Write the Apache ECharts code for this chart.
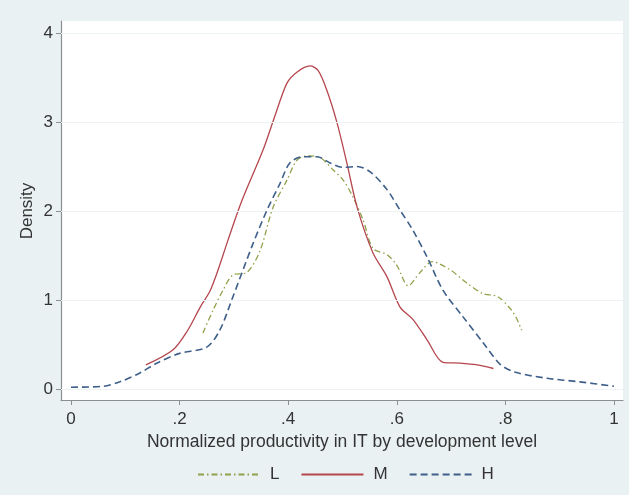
<!DOCTYPE html>
<html>
<head>
<meta charset="utf-8">
<script src="https://cdn.jsdelivr.net/npm/echarts@6/dist/echarts.min.js"></script>
<style>
html,body{margin:0;padding:0;background:#eaf1f3;}
#c{width:629px;height:495px;}
</style>
</head>
<body>
<div id="c"></div>
<script>
var xTicks = [0, 0.2, 0.4, 0.6, 0.8, 1];
var yTicks = [0, 1, 2, 3, 4];
var seriesNames = ['L', 'M', 'H'];
var yTitle = 'Density';
var xTitle = 'Normalized productivity in IT by development level';

var dataL = [
  [0.243,0.63],[0.262,0.89],[0.280,1.11],[0.298,1.28],[0.324,1.31],[0.348,1.55],
  [0.372,2.04],[0.398,2.35],[0.416,2.57],[0.435,2.62],[0.459,2.60],[0.483,2.46],
  [0.501,2.35],[0.519,2.16],[0.538,1.90],[0.556,1.58],[0.582,1.51],[0.600,1.39],
  [0.621,1.16],[0.643,1.31],[0.665,1.43],[0.698,1.34],[0.729,1.19],[0.759,1.07],
  [0.785,1.04],[0.808,0.91],[0.820,0.80],[0.830,0.66]
];
var dataM = [
  [0.138,0.27],[0.188,0.44],[0.215,0.66],[0.238,0.92],[0.256,1.10],[0.271,1.34],[0.289,1.67],
  [0.315,2.12],[0.354,2.69],[0.379,3.13],[0.398,3.44],[0.416,3.56],[0.440,3.63],
  [0.455,3.58],[0.471,3.36],[0.490,2.99],[0.508,2.54],[0.527,2.04],[0.556,1.53],
  [0.582,1.26],[0.606,0.92],[0.630,0.78],[0.656,0.55],[0.685,0.30],[0.716,0.29],
  [0.748,0.27],[0.778,0.23]
];
var dataH = [
  [0.000,0.02],[0.059,0.03],[0.090,0.08],[0.127,0.18],[0.158,0.29],[0.200,0.40],
  [0.250,0.47],[0.274,0.66],[0.296,1.00],[0.335,1.63],[0.361,2.01],[0.385,2.31],
  [0.403,2.54],[0.427,2.61],[0.453,2.61],[0.477,2.54],[0.501,2.49],[0.527,2.50],
  [0.551,2.44],[0.582,2.24],[0.606,2.01],[0.630,1.78],[0.656,1.48],[0.685,1.11],
  [0.722,0.81],[0.759,0.52],[0.790,0.28],[0.817,0.19],[0.877,0.12],[0.937,0.08],
  [1.000,0.03]
];

var colors = ['#8ea24a', '#b5464e', '#3e5f8a'];
var dashes = [[6,3,1.5,3], 'solid', [7,4]];
var datasets = [dataL, dataM, dataH];

var chart = echarts.init(document.getElementById('c'));
var fontFam = '"Liberation Sans", Arial, sans-serif';
var fs = 17;

var series = seriesNames.map(function(n, i){
  return {
    name: n,
    type: 'line',
    data: datasets[i],
    smooth: 0.3,
    symbol: 'none',
    lineStyle: {color: colors[i], width: i === 2 ? 1.6 : 1.3, type: dashes[i]},
    itemStyle: {color: colors[i]},
    z: 3 + i
  };
});
series.push({
  type: 'line', data: [], silent: true, z: 1,
  markLine: {
    silent: true, symbol: 'none', label: {show: false},
    lineStyle: {color: '#edf2f4', width: 1, type: 'solid'},
    data: yTicks.map(function(v){ return {yAxis: v}; })
  }
});

chart.setOption({
  backgroundColor: '#eaf1f3',
  animation: false,
  grid: {left: 61, right: 6, top: 21, bottom: 95, show: true, backgroundColor: '#ffffff', borderWidth: 0},
  graphic: [{
    type: 'text', x: 27, y: 211, rotation: Math.PI / 2,
    style: {text: yTitle, fontFamily: fontFam, fontSize: fs, fill: '#333', align: 'center', verticalAlign: 'middle'}
  }],
  legend: {
    data: seriesNames,
    left: 192, top: 461,
    itemWidth: 62, itemHeight: 12, itemGap: 21,
    itemStyle: {opacity: 0},
    textStyle: {fontFamily: fontFam, fontSize: fs, color: '#333', padding: [0, 0, 0, 5]}
  },
  xAxis: {
    type: 'value', min: -0.0184, max: 1.0166,
    name: xTitle,
    nameLocation: 'middle', nameGap: 27,
    nameTextStyle: {fontFamily: fontFam, fontSize: 17.5, color: '#333'},
    axisLine: {show: true, onZero: false, lineStyle: {color: '#8a8f92', width: 1.2}},
    axisTick: {show: true, length: 5, customValues: xTicks, lineStyle: {color: '#8a8f92'}},
    axisLabel: {customValues: xTicks, margin: 11, fontFamily: fontFam, fontSize: fs, color: '#333',
      formatter: function(v){ if (v === 0) return '0'; if (v === 1) return '1'; return String(+v.toFixed(1)).replace(/^0/, ''); }},
    splitLine: {show: false}
  },
  yAxis: {
    type: 'value', min: -0.124, max: 4.135,
    axisLine: {show: true, onZero: false, lineStyle: {color: '#8a8f92', width: 1.2}},
    axisTick: {show: true, length: 5, customValues: yTicks, lineStyle: {color: '#8a8f92'}},
    axisLabel: {customValues: yTicks, margin: 8, fontFamily: fontFam, fontSize: fs, color: '#333'},
    splitLine: {show: false}
  },
  series: series
});
</script>
</body>
</html>
